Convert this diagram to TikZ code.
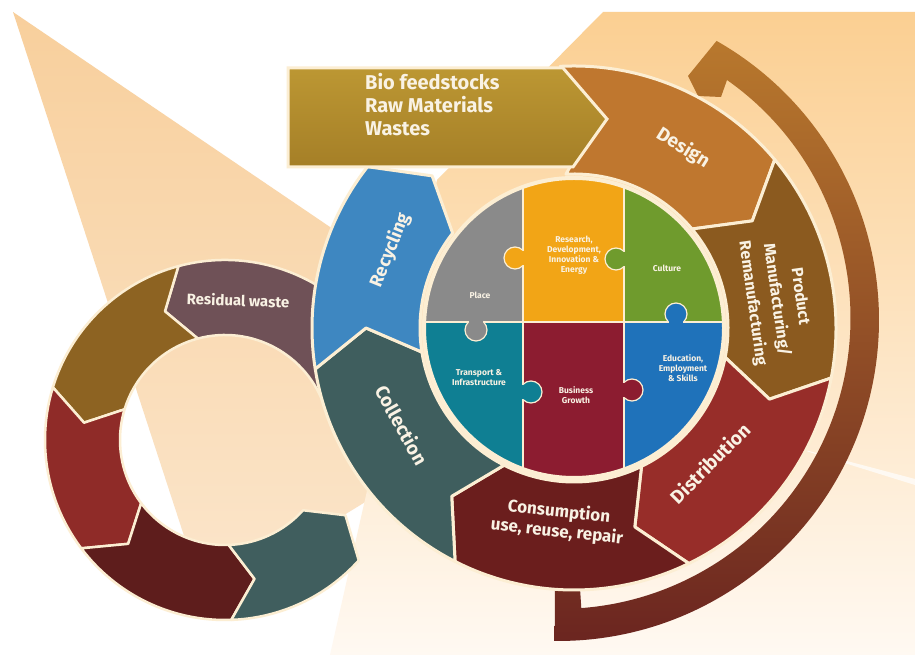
\documentclass[tikz,border=0pt]{standalone}
\usepackage{fontspec}
\setmainfont{Fira Sans}
\usepackage{tikz}
\usetikzlibrary{calc}

\definecolor{cream}{HTML}{FCEED3}
\definecolor{txt}{HTML}{F9F2E4}
\definecolor{beamtop}{HTML}{F8CF9C}
\definecolor{beambot}{HTML}{FBE6CC}
\definecolor{peachtop}{HTML}{FBCF92}
\definecolor{peachbot}{HTML}{FFF9F2}
\definecolor{bandtop}{HTML}{B8782D}
\definecolor{bandmid}{HTML}{8E4A23}
\definecolor{bandbot}{HTML}{6B2520}
\definecolor{designc}{HTML}{BF772F}
\definecolor{productc}{HTML}{8B5A1F}
\definecolor{distribc}{HTML}{972D29}
\definecolor{consumc}{HTML}{6B1E1D}
\definecolor{collectc}{HTML}{3F5E5E}
\definecolor{recycc}{HTML}{3E87C1}
\definecolor{biotop}{HTML}{BC9733}
\definecolor{biobot}{HTML}{A57F27}
\definecolor{residc}{HTML}{6F5157}
\definecolor{olivec}{HTML}{8D6322}
\definecolor{redc}{HTML}{8F2B28}
\definecolor{maroonc}{HTML}{5E1D1C}
\definecolor{slatec}{HTML}{405E5E}
\definecolor{placec}{HTML}{8A8A8A}
\definecolor{researchc}{HTML}{F2A516}
\definecolor{culturec}{HTML}{6F9B2D}
\definecolor{transportc}{HTML}{0F7F93}
\definecolor{businessc}{HTML}{8C1C30}
\definecolor{educc}{HTML}{1F72BA}

\def\Rin{154}
\def\Rout{262}
\def\Rmid{208}

% clockwise segment of the main ring: tail angle, head angle, colour
\newcommand{\cwseg}[3]{%
  \filldraw[fill=#3, draw=cream, line width=3pt, line join=round]
    (#1:\Rout) arc[start angle=#1, end angle=#2, radius=\Rout] -- (#2-9:\Rmid)
    -- (#2:\Rin) arc[start angle=#2, end angle=#1, radius=\Rin] -- (#1-9:\Rmid) -- cycle;}

% counter clockwise segment of the small ring
\newcommand{\ccwseg}[3]{%
  \filldraw[fill=#3, draw=cream, line width=2.5pt, line join=round]
    (#1:180) arc[start angle=#1, end angle=#2, radius=180] -- (#2+10:142)
    -- (#2:105) arc[start angle=#2, end angle=#1, radius=105] -- (#1+10:142) -- cycle;}

% puzzle knob: ball centre, neck patch corners, colour
\newcommand{\pknob}[7]{%
  \filldraw[fill=#7, draw=cream, line width=1.2pt] (#1,#2) circle[radius=11];
  \fill[#7] (#3,#4) rectangle (#5,#6);}

\begin{document}
\begin{tikzpicture}[x=1pt,y=1pt]
\tikzstyle{lbl}=[text=txt, font=\bfseries\fontsize{19}{21}\selectfont, align=center, inner sep=0pt]
\tikzstyle{ptxt}=[text=txt, font=\bfseries\fontsize{8.5}{10}\selectfont, align=center, inner sep=0pt]
\useasboundingbox (0,0) rectangle (915,655);
\fill[white] (0,0) rectangle (915,655);

% light beams
\shade[top color=beamtop, bottom color=beambot] (13,643) -- (560,272) -- (205,55) -- cycle;
\shade[top color=peachtop, bottom color=peachbot] (603,643) -- (915,643) -- (915,0) -- (330,0) -- (437,475) -- cycle;
\fill[white, opacity=0.7] (790,209) -- (915,176) -- (915,170) -- cycle;

% return band
\path[top color=bandtop, middle color=bandmid, bottom color=bandbot]
  ($(558,335)+(-90.6:321)$) arc[start angle=-90.6, end angle=60.4, radius=321]
  -- (688,579) -- (698,559) -- (721,558) -- (727,575)
  arc[start angle=54.85, end angle=-85.7, radius=291] -- (580,67) -- (555,67) -- cycle;

% small ring
\begin{scope}[shift={(225,215)}]
\ccwseg{18}{105}{residc}
\ccwseg{105}{163}{olivec}
\ccwseg{163}{217}{redc}
\ccwseg{217}{272}{maroonc}
\ccwseg{272}{318}{slatec}
\node[lbl, font=\bfseries\fontsize{15}{17}\selectfont, rotate=-2] (residual) at (13,140) {Residual waste};
\end{scope}

% main ring
\begin{scope}[shift={(574,327)}]
\cwseg{93}{40}{designc}
\cwseg{40}{-11}{productc}
\cwseg{-11}{-64}{distribc}
\cwseg{-64}{-117}{consumc}
\cwseg{-117}{-171}{collectc}
\cwseg{-171}{-218}{recycc}
\end{scope}

% input arrow
\path[top color=biotop, bottom color=biobot, draw=cream, line width=3pt, line join=miter]
  (288,587) -- (563,587) -- (607,536) -- (573,488) -- (288,488) -- cycle;
\node[lbl, anchor=north west, align=left, font=\bfseries\fontsize{20}{23}\selectfont] (bio) at (365,582) {Bio feedstocks\\Raw Materials\\Wastes};

% puzzle
\fill[cream] (574,327) circle[radius=152];
\begin{scope}
\clip (574,327) circle[radius=149];
\fill[placec] (420,333) rectangle (523,480);
\fill[researchc] (523,333) rectangle (624,480);
\fill[culturec] (624,333) rectangle (730,480);
\fill[transportc] (420,170) rectangle (523,333);
\fill[businessc] (523,170) rectangle (624,333);
\fill[educc] (624,170) rectangle (730,333);
\draw[cream, line width=1.5pt] (523,170) -- (523,480) (624,170) -- (624,480) (420,333) -- (730,333);
\pknob{515}{397}{522.2}{389.7}{527}{404.3}{researchc}
\pknob{616}{396}{623.2}{388.7}{628}{403.3}{culturec}
\pknob{676}{341}{668.7}{328}{683.3}{333.8}{educc}
\pknob{476}{325}{468.7}{332.2}{483.3}{338}{placec}
\pknob{531}{263}{518}{255.7}{523.8}{270.3}{transportc}
\pknob{632}{265}{619}{257.7}{624.8}{272.3}{businessc}
\end{scope}
\draw[cream, line width=2pt] (574,327) circle[radius=149];

\node[ptxt] (place) at (480,360) {Place};
\node[ptxt] (research) at (574,400) {Research,\\Development,\\Innovation \&\\Energy};
\node[ptxt] (culture) at (667,387) {Culture};
\node[ptxt] (transport) at (479,277) {Transport \&\\Infrastructure};
\node[ptxt] (business) at (576,260) {Business\\Growth};
\node[ptxt] (education) at (683,287) {Education,\\Employment\\\& Skills};

% ring labels
\node[lbl, rotate=-32] (design) at (683,507) {Design};
\node[lbl, rotate=-82, font=\bfseries\fontsize{16}{24}\selectfont] (product) at (776,355) {Product\\Manufacturing/\\Remanufacturing};
\node[lbl, rotate=45] (distribution) at (710,192) {Distribution};
\node[lbl, rotate=-6, font=\bfseries\fontsize{17}{20}\selectfont] (consumption) at (558,133) {Consumption\\use, reuse, repair};
\node[lbl, rotate=-61] (collection) at (402,230) {Collection};
\node[lbl, rotate=68, font=\bfseries\fontsize{18}{20}\selectfont] (recycling) at (390,405) {Recycling};
\end{tikzpicture}
\end{document}
